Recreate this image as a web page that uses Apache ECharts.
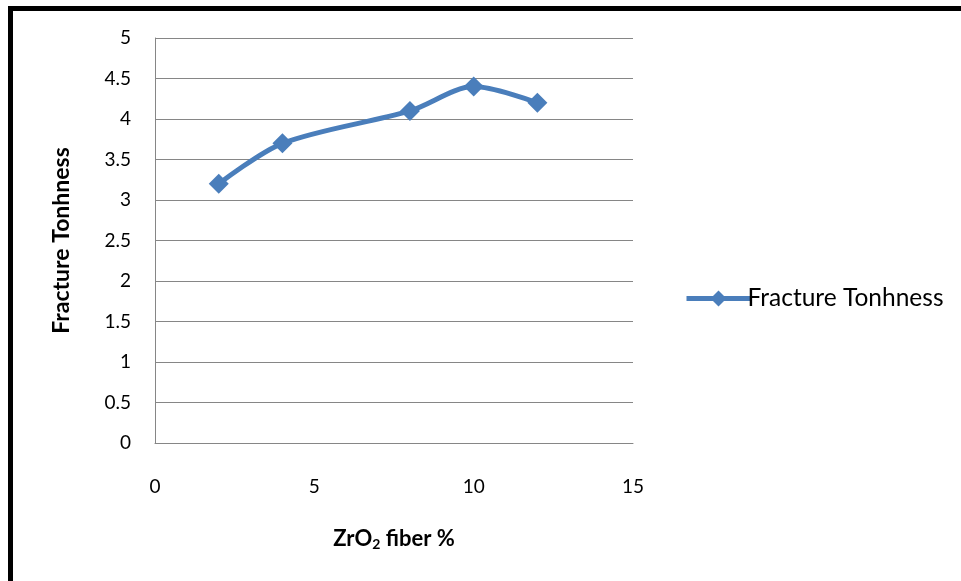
<!DOCTYPE html>
<html>
<head>
<meta charset="utf-8">
<style>
  html, body { margin: 0; padding: 0; background: #fff; }
  #chart { width: 961px; height: 581px; }
</style>
<script src="https://cdn.jsdelivr.net/npm/echarts@6/dist/echarts.min.js"></script>
</head>
<body>
<div id="chart"></div>
<script>
// ZrO2 fiber content (%) and measured fracture toughness
const fiberPercent = [2, 4, 8, 10, 12];
const toughness = [3.2, 3.7, 4.1, 4.4, 4.2];
const seriesName = 'Fracture Tonhness';
const xTitle = 'ZrO';
const yTitle = 'Fracture Tonhness';

const font = 'Lato, "Open Sans", sans-serif';
const chart = echarts.init(document.getElementById('chart'));

chart.setOption({
  backgroundColor: '#ffffff',
  animation: false,
  graphic: [
    { type: 'rect', shape: { x: 8, y: 6, width: 953, height: 5 }, style: { fill: '#000' } },
    { type: 'rect', shape: { x: 8, y: 6, width: 5, height: 575 }, style: { fill: '#000' } }
  ],
  grid: { left: 155, right: 328, top: 38, bottom: 138 },
  legend: {
    left: 679, top: 281,
    itemWidth: 64, itemHeight: 20,
    itemGap: 0,
    lineStyle: { width: 5 },
    textStyle: { fontFamily: font, fontSize: 24.5, color: '#000', padding: [0, 0, 0, -8] },
    data: [seriesName]
  },
  xAxis: {
    type: 'value', min: 0, max: 15, interval: 5,
    name: '{n|' + xTitle + '}{s|2}{n| fiber %}',
    nameLocation: 'middle', nameGap: 84,
    nameTextStyle: {
      rich: {
        n: { fontFamily: font, fontSize: 22, fontWeight: 'bold', color: '#000' },
        s: { fontFamily: font, fontSize: 14, fontWeight: 'bold', color: '#000', verticalAlign: 'bottom', padding: [10, 0, 0, 0] }
      }
    },
    axisLine: { show: true, lineStyle: { color: '#868686', width: 1 } },
    axisTick: { show: false },
    splitLine: { show: false },
    axisLabel: { fontFamily: font, fontSize: 19, color: '#000', margin: 34 }
  },
  yAxis: {
    type: 'value', min: 0, max: 5, interval: 0.5,
    name: yTitle, nameLocation: 'middle', nameGap: 82, nameRotate: 90,
    nameTextStyle: { fontFamily: font, fontSize: 23, fontWeight: 'bold', color: '#000' },
    axisLine: { show: true, lineStyle: { color: '#868686', width: 1 } },
    axisTick: { show: false },
    splitLine: { show: true, lineStyle: { color: '#868686', width: 1 } },
    axisLabel: { fontFamily: font, fontSize: 19, color: '#000', margin: 24 }
  },
  series: [{
    name: seriesName,
    type: 'line',
    smooth: 0.3,
    data: fiberPercent.map((x, i) => [x, toughness[i]]),
    symbol: 'diamond', symbolSize: 20,
    lineStyle: { color: '#4a7ebb', width: 5 },
    itemStyle: { color: '#4a7ebb' }
  }]
});
</script>
</body>
</html>
